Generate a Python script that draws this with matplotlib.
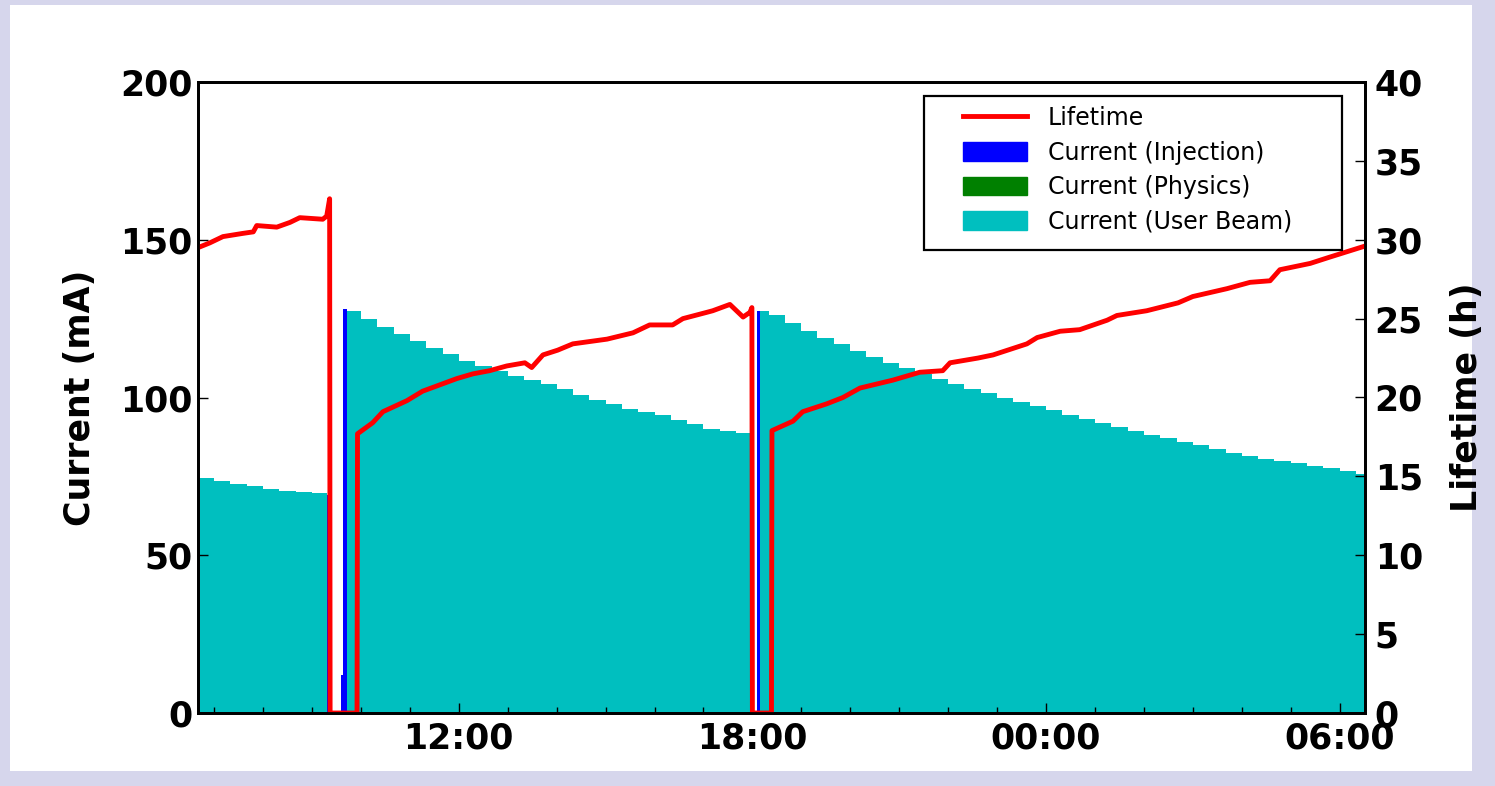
"Storage ring current and beam lifetime over one day"

import matplotlib.pyplot as plt
from matplotlib.lines import Line2D
from matplotlib.patches import Patch, Rectangle
from matplotlib.ticker import FixedLocator, MultipleLocator

#####
# Data (hours since 00:00 on day 1)
#####

# User beam current, one stair step per bin; last edge closes the segment
beam1_edges = [6.67, 7.00, 7.33, 7.67, 8.00, 8.33, 8.67, 9.00, 9.30]
beam1_mA = [74.5, 73.5, 72.6, 72.0, 71.0, 70.5, 70.0, 69.6]

beam2_edges = [9.72, 10.00, 10.33, 10.67, 11.00, 11.33, 11.67, 12.00, 12.33,
               12.67, 13.00, 13.33, 13.67, 14.00, 14.33, 14.67, 15.00, 15.33,
               15.67, 16.00, 16.33, 16.67, 17.00, 17.33, 17.67, 17.97]
beam2_mA = [127.5, 124.8, 122.2, 120.0, 117.8, 115.8, 113.8, 111.7, 110.1,
            108.4, 106.9, 105.5, 104.2, 102.6, 100.8, 99.3, 97.8, 96.4,
            95.5, 94.3, 93.0, 91.5, 90.0, 89.4, 88.8]

beam3_edges = [18.15, 18.33, 18.67, 19.00, 19.33, 19.67, 20.00, 20.33, 20.67,
               21.00, 21.33, 21.67, 22.00, 22.33, 22.67, 23.00, 23.33, 23.67,
               24.00, 24.33, 24.67, 25.00, 25.33, 25.67, 26.00, 26.33, 26.67,
               27.00, 27.33, 27.67, 28.00, 28.33, 28.67, 29.00, 29.33, 29.67,
               30.00, 30.33, 30.52]
beam3_mA = [127.5, 126.0, 123.5, 121.2, 119.0, 117.0, 114.8, 112.8, 110.8,
            109.2, 107.6, 106.0, 104.3, 102.7, 101.4, 99.9, 98.6, 97.4,
            95.9, 94.4, 93.1, 91.8, 90.6, 89.4, 88.2, 87.1, 86.0,
            85.0, 83.7, 82.5, 81.4, 80.6, 79.9, 79.3, 78.4, 77.6,
            76.6, 75.6]

# Injection current
inj_start = [9.30, 9.60, 9.64, 17.97, 18.09]
inj_end = [9.36, 9.64, 9.72, 18.01, 18.15]
inj_mA = [69.0, 12.0, 128.0, 88.0, 127.5]

# Beam lifetime
life_t = [6.67, 6.91, 7.18, 7.58, 7.80, 7.87, 8.28, 8.55, 8.75, 9.22, 9.30,
          9.36, 9.37, 9.92, 9.93, 10.24, 10.45, 10.94, 11.26, 11.61, 11.96,
          12.29, 12.63, 12.98, 13.35, 13.49, 13.72, 14.02, 14.33, 15.03,
          15.56, 15.90, 16.37, 16.58, 17.07, 17.19, 17.54, 17.81, 17.95,
          17.99, 18.00, 18.39, 18.40, 18.83, 19.03, 19.52, 19.85, 20.20,
          20.87, 21.42, 21.89, 22.04, 22.61, 22.92, 23.61, 23.82, 24.29,
          24.69, 25.25, 25.45, 26.06, 26.70, 27.00, 27.70, 28.17, 28.58,
          28.78, 29.40, 29.80, 30.52]
life_h = [29.5, 29.8, 30.2, 30.4, 30.5, 30.9, 30.8, 31.1, 31.4, 31.3, 31.5,
          32.6, 0.0, 0.0, 17.7, 18.4, 19.1, 19.8, 20.4, 20.8, 21.2,
          21.5, 21.7, 22.0, 22.2, 21.9, 22.7, 23.0, 23.4, 23.7,
          24.1, 24.6, 24.6, 25.0, 25.4, 25.5, 25.9, 25.1, 25.4,
          25.7, 0.0, 0.0, 17.9, 18.5, 19.1, 19.6, 20.0, 20.6,
          21.1, 21.6, 21.7, 22.2, 22.5, 22.7, 23.4, 23.8, 24.2,
          24.3, 24.9, 25.2, 25.5, 26.0, 26.4, 26.9, 27.3, 27.4,
          28.1, 28.5, 28.9, 29.6]

xtick_hours = [12, 18, 24, 30]
xtick_labels = ["12:00", "18:00", "00:00", "06:00"]
legend_labels = ["Lifetime", "Current (Injection)", "Current (Physics)",
                 "Current (User Beam)"]

#####
# Styling
#####

CYAN = (0.0, 0.75, 0.75)
BLUE = "#0000ff"
GREEN = "#008000"
RED = "#ff0000"
W, H = 1495, 786

plt.rcParams["font.family"] = "DejaVu Sans"
plt.rcParams["font.weight"] = "bold"

fig = plt.figure(figsize=(W / 100, H / 100), dpi=100)
fig.patch.set_facecolor("#d6d6ec")
fig.patches.append(Rectangle((10 / W, 1 - 771 / H), 1462 / W, 766 / H,
                             transform=fig.transFigure, facecolor="white",
                             edgecolor="none", zorder=-1))

ax = fig.add_axes([198 / W, 1 - 713 / H, 1167 / W, 631 / H])

# Current bars
for edges, values in [(beam1_edges, beam1_mA), (beam2_edges, beam2_mA),
                      (beam3_edges, beam3_mA)]:
    ax.stairs(values, edges, fill=True, color=CYAN, linewidth=0)
widths = [e - s for s, e in zip(inj_start, inj_end)]
ax.bar(inj_start, inj_mA, width=widths, align="edge", color=BLUE, linewidth=0)

ax.set_xlim(6.67, 30.52)
ax.set_ylim(0, 200)
ax.set_yticks([0, 50, 100, 150, 200])
ax.xaxis.set_major_locator(FixedLocator(xtick_hours))
ax.set_xticklabels(xtick_labels)
ax.xaxis.set_minor_locator(MultipleLocator(1))
ax.tick_params(axis="both", which="major", direction="in", length=7,
               width=1, labelsize=25)
ax.tick_params(axis="x", which="minor", direction="in", length=4, width=1)
ax.tick_params(axis="x", pad=6, top=False)
ax.tick_params(axis="y", pad=4, right=False)
ax.set_ylabel("Current (mA)", fontsize=25, fontweight="bold")
ax.yaxis.set_label_coords(-0.0865, 0.5)

# Lifetime line
ax2 = ax.twinx()
ax2.plot(life_t, life_h, color=RED, linewidth=3.5)
ax2.set_ylim(0, 40)
ax2.set_yticks(range(0, 41, 5))
ax2.tick_params(axis="y", direction="in", length=7, width=1, labelsize=25,
                pad=7)
ax2.set_ylabel("Lifetime (h)", fontsize=25, fontweight="bold")
ax2.yaxis.set_label_coords(1.0728, 0.5)

for a in (ax, ax2):
    for spine in a.spines.values():
        spine.set_linewidth(2)

# Legend with a hand-drawn frame
frame = Rectangle((924 / W, 1 - 250 / H), 418 / W, 154 / H,
                  transform=fig.transFigure, facecolor="white",
                  edgecolor="black", linewidth=1.6, zorder=4)
ax2.add_artist(frame)
handles = [Line2D([], [], color=RED, linewidth=3.5),
           Patch(color=BLUE), Patch(color=GREEN), Patch(color=CYAN)]
leg = ax2.legend(handles, legend_labels, loc="upper left",
                 bbox_to_anchor=(963 / W, 1 - 106 / H),
                 bbox_transform=fig.transFigure, frameon=False,
                 borderpad=0, borderaxespad=0, handlelength=2.7,
                 handleheight=0.85, handletextpad=0.9, labelspacing=0.45,
                 prop={"family": "DejaVu Sans", "weight": "normal",
                       "size": 17})
leg.set_zorder(5)

fig.savefig("out.png", dpi=100, facecolor=fig.get_facecolor())
